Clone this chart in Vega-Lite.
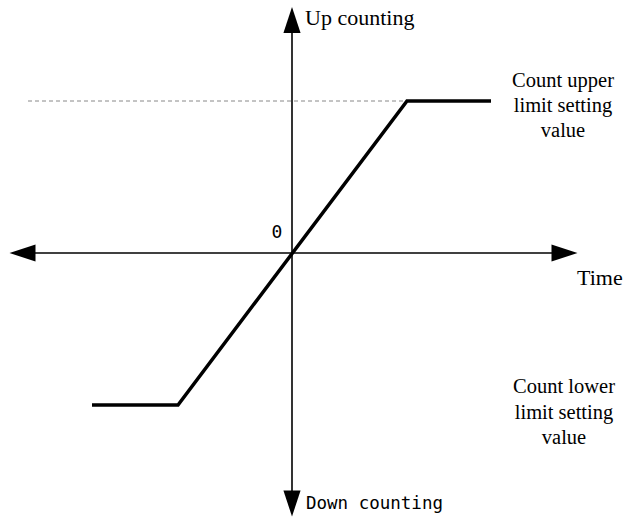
{
  "$schema": "https://vega.github.io/schema/vega-lite/v6.json",
  "width": 624,
  "height": 517,
  "autosize": {"type": "fit", "contains": "padding"},
  "padding": 0,
  "background": "white",
  "config": {"view": {"stroke": null}},
  "datasets": {
    "curve": [
      {"t": -200, "count": -152},
      {"t": -114, "count": -152},
      {"t": 115, "count": 152},
      {"t": 199, "count": 152}
    ],
    "axes": [
      {"x": -270, "y": 0, "x2": 273, "y2": 0},
      {"x": 0, "y": 233, "x2": 0, "y2": -251}
    ],
    "limit": [
      {"x": -264, "y": 152, "x2": 115, "y2": 152}
    ],
    "arrows": [
      {"x": 0, "y": 233, "dir": 0},
      {"x": 272.5, "y": 0, "dir": 90},
      {"x": 0, "y": -250.5, "dir": 180},
      {"x": -269.5, "y": 0, "dir": 270}
    ],
    "serifLeft": [
      {"x": 13, "y": 235, "label": "Up counting"},
      {"x": 285, "y": -25, "label": "Time"}
    ],
    "serifCenter": [
      {"x": 271, "y": 172, "label": "Count upper"},
      {"x": 271, "y": 147, "label": "limit setting"},
      {"x": 271, "y": 122, "label": "value"},
      {"x": 272, "y": -134, "label": "Count lower"},
      {"x": 272, "y": -160, "label": "limit setting"},
      {"x": 272, "y": -185, "label": "value"}
    ],
    "mono": [
      {"x": 14, "y": -251, "label": "Down counting"}
    ],
    "zero": [
      {"x": -15, "y": 20, "label": "0"}
    ]
  },
  "layer": [
    {
      "data": {"name": "limit"},
      "mark": {"type": "rule", "stroke": "#888888", "strokeWidth": 1, "strokeDash": [4, 3]},
      "encoding": {
        "x": {"field": "x", "type": "quantitative", "scale": {"domain": [-292, 332], "nice": false, "zero": false}, "axis": null},
        "y": {"field": "y", "type": "quantitative", "scale": {"domain": [-264, 253], "nice": false, "zero": false}, "axis": null},
        "x2": {"field": "x2"},
        "y2": {"field": "y2"}
      }
    },
    {
      "data": {"name": "axes"},
      "mark": {"type": "rule", "stroke": "black", "strokeWidth": 1.6},
      "encoding": {
        "x": {"field": "x", "type": "quantitative"},
        "y": {"field": "y", "type": "quantitative"},
        "x2": {"field": "x2"},
        "y2": {"field": "y2"}
      }
    },
    {
      "data": {"name": "arrows"},
      "mark": {"type": "point", "filled": true, "color": "black", "opacity": 1, "strokeWidth": 0, "size": 676, "shape": "M0,-1L0.66,1L-0.66,1Z"},
      "encoding": {
        "x": {"field": "x", "type": "quantitative"},
        "y": {"field": "y", "type": "quantitative"},
        "angle": {"field": "dir", "type": "quantitative", "scale": null}
      }
    },
    {
      "data": {"name": "curve"},
      "mark": {"type": "line", "color": "black", "strokeWidth": 3.5, "strokeJoin": "miter"},
      "encoding": {
        "x": {"field": "t", "type": "quantitative"},
        "y": {"field": "count", "type": "quantitative"}
      }
    },
    {
      "data": {"name": "serifLeft"},
      "mark": {"type": "text", "align": "left", "baseline": "middle", "font": "Liberation Serif", "fontSize": 22, "color": "black"},
      "encoding": {
        "x": {"field": "x", "type": "quantitative"},
        "y": {"field": "y", "type": "quantitative"},
        "text": {"field": "label"}
      }
    },
    {
      "data": {"name": "serifCenter"},
      "mark": {"type": "text", "align": "center", "baseline": "middle", "font": "Liberation Serif", "fontSize": 20.5, "color": "black"},
      "encoding": {
        "x": {"field": "x", "type": "quantitative"},
        "y": {"field": "y", "type": "quantitative"},
        "text": {"field": "label"}
      }
    },
    {
      "data": {"name": "mono"},
      "mark": {"type": "text", "align": "left", "baseline": "middle", "font": "DejaVu Sans Mono", "fontSize": 17.5, "color": "black"},
      "encoding": {
        "x": {"field": "x", "type": "quantitative"},
        "y": {"field": "y", "type": "quantitative"},
        "text": {"field": "label"}
      }
    },
    {
      "data": {"name": "zero"},
      "mark": {"type": "text", "align": "center", "baseline": "middle", "font": "DejaVu Sans Mono", "fontSize": 18, "color": "black"},
      "encoding": {
        "x": {"field": "x", "type": "quantitative"},
        "y": {"field": "y", "type": "quantitative"},
        "text": {"field": "label"}
      }
    }
  ]
}
